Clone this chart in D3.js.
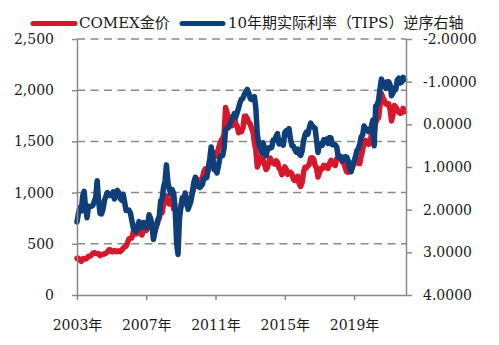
<!DOCTYPE html>
<html><head><meta charset="utf-8">
<script src="https://cdn.jsdelivr.net/npm/d3@7"></script>
<style>body{margin:0;background:#fff}svg{display:block}</style>
</head><body>
<svg id="c" width="499" height="345"></svg>
<script>
// Monthly data, Jan 2003 - Dec 2021
const startYear = 2003;
const gold = [
356,359,340,328,355,356,351,360,379,379,389,407,
414,405,406,404,384,392,398,400,406,420,439,442,
424,423,434,429,422,431,424,438,456,470,476,510,
549,555,557,610,676,596,633,632,598,586,628,629,
631,665,655,679,667,655,665,665,712,754,806,803,
889,922,968,909,888,889,939,839,829,806,760,816,
858,943,924,890,928,945,934,949,996,1043,1127,1134,
1118,1095,1113,1148,1205,1232,1193,1215,1271,1343,1370,1391,
1356,1372,1424,1474,1510,1529,1572,1830,1780,1665,1739,1652,
1656,1743,1674,1650,1585,1596,1594,1630,1745,1747,1722,1684,
1671,1628,1592,1485,1414,1250,1287,1347,1349,1316,1275,1225,
1244,1300,1336,1299,1288,1279,1311,1296,1239,1222,1176,1201,
1251,1227,1178,1198,1199,1181,1129,1118,1125,1159,1086,1060,
1097,1200,1246,1242,1260,1276,1337,1341,1326,1267,1238,1152,
1192,1234,1231,1267,1246,1260,1236,1283,1315,1280,1283,1265,
1331,1331,1325,1334,1303,1282,1238,1202,1198,1215,1221,1250,
1291,1320,1300,1286,1283,1359,1413,1500,1510,1495,1471,1480,
1560,1597,1591,1683,1715,1732,1847,1968,1922,1900,1866,1858,
1867,1808,1700,1760,1850,1834,1807,1785,1775,1777,1822,1790
];
const tips = [
2.29,2.08,1.95,2.03,1.68,1.57,1.97,2.19,1.92,1.93,1.92,1.90,
1.80,1.71,1.32,1.80,2.09,2.10,2.00,1.79,1.69,1.60,1.64,1.67,
1.66,1.58,1.75,1.59,1.55,1.60,1.74,1.78,1.64,1.82,2.02,2.02,
2.01,2.08,2.24,2.42,2.48,2.51,2.46,2.28,2.35,2.41,2.30,2.36,
2.42,2.34,2.12,2.20,2.36,2.70,2.54,2.38,2.24,2.17,1.79,1.76,
1.47,1.33,0.95,1.35,1.52,1.63,1.53,1.62,1.94,2.76,3.05,2.22,
1.93,1.72,1.79,1.61,1.84,1.99,1.90,1.80,1.57,1.36,1.24,1.38,
1.45,1.48,1.45,1.40,1.27,1.26,1.25,1.02,0.81,0.53,0.72,1.06,
1.08,1.14,0.99,0.79,0.73,0.73,0.56,0.12,0.10,0.08,-0.01,-0.08,
-0.16,-0.25,-0.17,-0.27,-0.38,-0.51,-0.59,-0.61,-0.71,-0.75,-0.82,-0.74,
-0.61,-0.58,-0.59,-0.65,-0.37,0.25,0.46,0.55,0.66,0.43,0.55,0.74,
0.60,0.55,0.56,0.54,0.37,0.37,0.28,0.22,0.46,0.38,0.45,0.49,
0.19,0.15,0.24,0.10,0.35,0.50,0.51,0.59,0.65,0.58,0.69,0.73,
0.63,0.39,0.25,0.18,0.23,0.08,-0.03,0.03,0.07,0.09,0.37,0.66,
0.46,0.46,0.49,0.36,0.40,0.35,0.45,0.31,0.32,0.48,0.47,0.48,
0.53,0.77,0.74,0.77,0.86,0.77,0.76,0.77,0.86,1.03,1.11,0.97,
0.86,0.76,0.62,0.57,0.47,0.29,0.25,0.04,0.10,0.12,0.17,0.14,
0.05,-0.10,0.50,-0.43,-0.45,-0.56,-0.83,-1.06,-0.97,-0.92,-0.84,-1.00,
-1.00,-0.92,-0.67,-0.73,-0.85,-0.82,-1.04,-1.08,-0.97,-0.99,-1.10,-1.05
];
const leftTicks = [0,500,1000,1500,2000,2500];
const rightTicks = [-2,-1,0,1,2,3,4];
const xTickYears = [2003,2007,2011,2015,2019];
const legendLabels = ["COMEX金价","10年期实际利率（TIPS）逆序右轴"];

const RED = "#d7172c", BLUE = "#0e3f78", AX = "#8a8a8a";
const FONT = "'DejaVu Serif','Noto Sans CJK SC',serif";

const svg = d3.select("#c");
const x = d3.scaleTime().domain([new Date(2003,0,1), new Date(2022,0,1)]).range([77,406]);
const yL = d3.scaleLinear().domain([0,2500]).range([295,39]);
const yR = d3.scaleLinear().domain([4,-2]).range([295,39]);

const dates = gold.map((_,i)=> new Date(startYear + Math.floor(i/12), i%12, 1));

// gridlines
svg.append("g").selectAll("line").data(leftTicks.filter(d=>d>0)).join("line")
  .attr("x1",77).attr("x2",406).attr("y1",d=>yL(d)).attr("y2",d=>yL(d))
  .attr("stroke",AX).attr("stroke-width",1.5).attr("stroke-dasharray","8,5.5");

// lines
const lg = d3.line().x((d,i)=>x(dates[i])).y(d=>yL(d));
const lt = d3.line().x((d,i)=>x(dates[i])).y(d=>yR(d));
svg.append("path").datum(gold).attr("d",lg).attr("fill","none")
  .attr("stroke",RED).attr("stroke-width",5.5).attr("stroke-linejoin","round").attr("stroke-linecap","round");
svg.append("path").datum(tips).attr("d",lt).attr("fill","none")
  .attr("stroke",BLUE).attr("stroke-width",5.5).attr("stroke-linejoin","round").attr("stroke-linecap","round");

function styleAxis(g){
  g.select(".domain").attr("stroke",AX).attr("stroke-width",1.5);
  g.selectAll(".tick line").attr("stroke",AX).attr("stroke-width",1.5);
  g.selectAll("text").attr("fill","#1a1a1a").style("font-family",FONT).style("font-size","14px");
}
svg.append("g").attr("transform","translate(77,0)")
  .call(d3.axisLeft(yL).tickValues(leftTicks).tickSize(5).tickSizeOuter(0).tickPadding(18).tickFormat(d3.format(",")))
  .call(styleAxis);
const rAxis = svg.append("g").attr("transform","translate(406,0)")
  .call(d3.axisRight(yR).tickValues(rightTicks).tickSize(6).tickSizeOuter(0).tickPadding(11).tickFormat(d=>d.toFixed(4)))
  .call(styleAxis);
svg.append("g").attr("transform","translate(0,295)")
  .call(d3.axisBottom(x).tickValues(xTickYears.map(y=>new Date(y,0,1))).tickSize(5).tickSizeOuter(0).tickPadding(20).tickFormat(d=>d.getFullYear()+"年"))
  .call(styleAxis);

// legend
const leg = svg.append("g");
const legX = [[33,75,79],[182,223,228]];
const legC = [RED,BLUE];
legendLabels.forEach((t,i)=>{
  leg.append("line").attr("x1",legX[i][0]).attr("x2",legX[i][1]).attr("y1",23.5).attr("y2",23.5)
    .attr("stroke",legC[i]).attr("stroke-width",5).attr("stroke-linecap","round");
  leg.append("text").attr("x",legX[i][2]).attr("y",28).text(t)
    .attr("fill","#1a1a1a").style("font-family",FONT).style("font-size","15px");
});
</script>
</body></html>
